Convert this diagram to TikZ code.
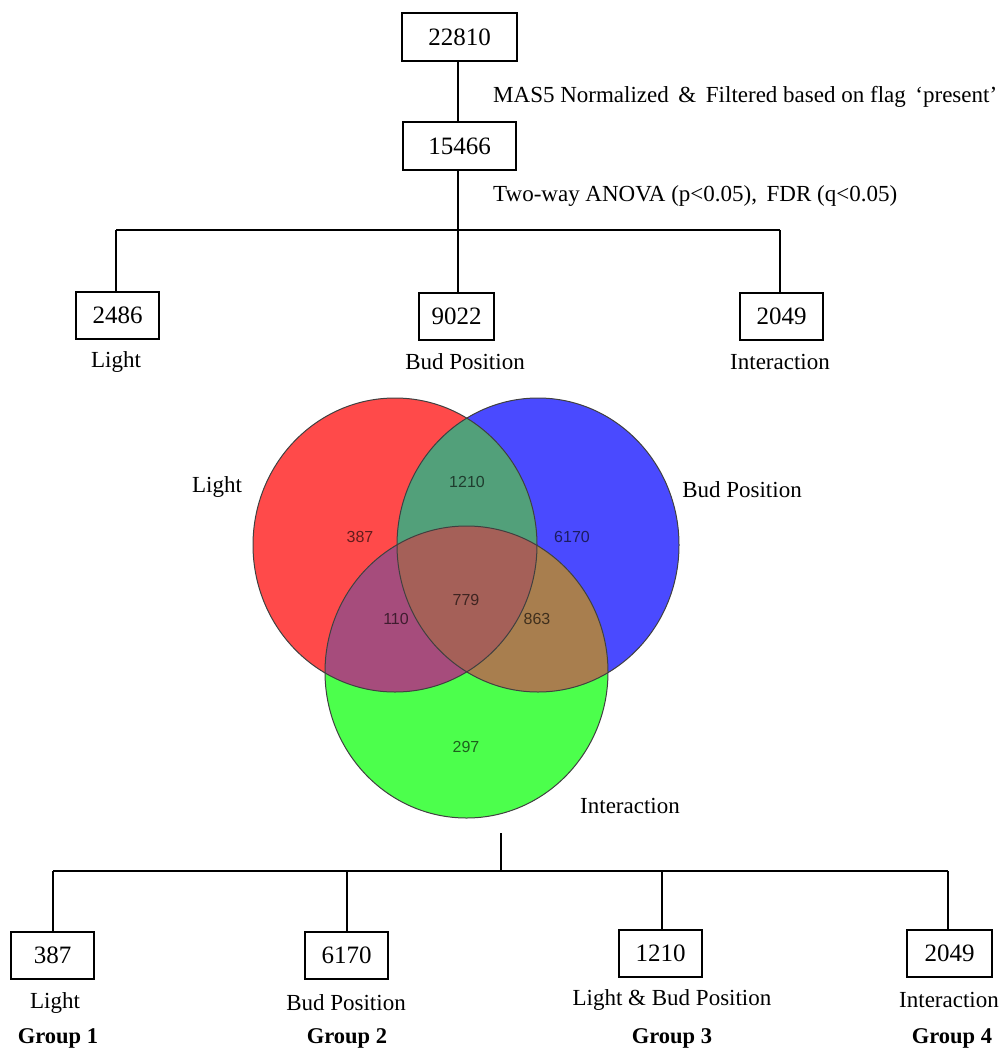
\documentclass[tikz,border=0pt]{standalone}
\usepackage{fontspec}
\setmainfont{Liberation Serif}
\newfontfamily\vennfont{Liberation Sans}
\definecolor{vR}{RGB}{255,74,74}
\definecolor{vB}{RGB}{74,74,255}
\definecolor{vG}{RGB}{76,255,76}
\definecolor{vRB}{RGB}{82,160,122}
\definecolor{vRG}{RGB}{166,76,124}
\definecolor{vBG}{RGB}{168,126,78}
\definecolor{vC}{RGB}{165,96,88}
\begin{document}
\begin{tikzpicture}[x=1pt,y=-1pt,
 box/.style={draw,line width=2pt,minimum width=83pt,minimum height=47pt,inner sep=0pt,font=\fontsize{25}{28}\selectfont},
 lbl/.style={inner sep=0pt,font=\fontsize{23}{26}\selectfont},
 grp/.style={inner sep=0pt,font=\fontsize{22.5}{26}\selectfont\bfseries},
 conn/.style={line width=2pt},
 vnum/.style={inner sep=0pt,font=\vennfont\fontsize{16}{18}\selectfont,text opacity=0.62},
 ring/.style={draw=black!75,line width=1pt}]
\useasboundingbox (0,0) rectangle (1002,1049);

% ---- top tree ----
\node[box,minimum width=115pt,minimum height=48pt] (n22810) at (459.5,37) {22810};
\node[box,minimum width=113pt,minimum height=48pt] (n15466) at (459.5,146) {15466};
\coordinate (t0) at (458,230);
\coordinate (tL) at (116,230);
\coordinate (tR) at (780,230);
\draw[conn] (t0 |- n22810.south) -- (t0 |- n15466.north);
\node[lbl,anchor=west] (tMAS) at (493,97) {MAS5 Normalized \,\&\, Filtered based on flag \,‘present’};
\node[lbl,anchor=west] (tANOVA) at (493,196) {Two-way ANOVA (p<0.05), \,FDR (q<0.05)};

\draw[conn] (t0 |- n15466.south) -- (t0);
\draw[conn] (tL) -- (tR);

\node[box] (n2486) at (117.5,315.5) {2486};
\node[box,minimum width=75pt] (n9022) at (456.5,316) {9022};
\node[box] (n2049a) at (781.5,316) {2049};
\draw[conn] (tL) -- (tL |- n2486.north);
\draw[conn] (t0) -- (t0 |- n9022.north);
\draw[conn] (tR) -- (tR |- n2049a.north);

\node[lbl] (lLight) at (116,362) {Light};
\node[lbl] (lBud) at (465,362) {Bud Position};
\node[lbl] (lInt) at (780,362) {Interaction};

% ---- Venn diagram ----
\def\cR{(395,545) ellipse[x radius=142pt,y radius=147pt]}
\def\cB{(538,545) ellipse[x radius=141pt,y radius=147pt]}
\def\cG{(466.5,672) ellipse[x radius=141.5pt,y radius=146pt]}
\fill[vR] \cR;
\fill[vB] \cB;
\fill[vG] \cG;
\begin{scope}
 \clip \cR;
 \fill[vRB] \cB;
\end{scope}
\begin{scope}
 \clip \cR;
 \fill[vRG] \cG;
\end{scope}
\begin{scope}
 \clip \cB;
 \fill[vBG] \cG;
\end{scope}
\begin{scope}
 \clip \cR;
 \clip \cB;
 \fill[vC] \cG;
\end{scope}
\draw[ring] \cR;
\draw[ring] \cB;
\draw[ring] \cG;

\node[vnum] (v387) at (360,537) {387};
\node[vnum] (v1210) at (467,482) {1210};
\node[vnum] (v6170) at (572,537) {6170};
\node[vnum] (v779) at (466,600) {779};
\node[vnum] (v110) at (396,619) {110};
\node[vnum] (v863) at (537,619) {863};
\node[vnum] (v297) at (466,747) {297};

\node[lbl] (vLight) at (217,487) {Light};
\node[lbl] (vBud) at (742,490) {Bud Position};
\node[lbl] (vInt) at (630,806) {Interaction};

% ---- bottom tree ----
\coordinate (b0) at (501,833);
\coordinate (bM) at (501,871);
\coordinate (bL) at (53,871);
\coordinate (bR) at (948,871);
\draw[conn] (b0) -- (bM);
\draw[conn] (bL) -- (bR);

\node[box] (g387) at (52.5,955) {387};
\node[box] (g6170) at (346.5,955.5) {6170};
\node[box] (g1210) at (660.5,953) {1210};
\node[box,minimum width=85pt] (g2049) at (949.5,953.5) {2049};
\coordinate (d2) at (347,871);
\coordinate (d3) at (662,871);
\draw[conn] (bL) -- (bL |- g387.north);
\draw[conn] (d2) -- (d2 |- g6170.north);
\draw[conn] (d3) -- (d3 |- g1210.north);
\draw[conn] (bR) -- (bR |- g2049.north);

\node[lbl] (gl1) at (55,1003) {Light};
\node[lbl] (gl2) at (346,1003) {Bud Position};
\node[lbl] (gl3) at (672,1000) {Light \& Bud Position};
\node[lbl] (gl4) at (949,1000) {Interaction};

\node[grp] (gg1) at (58,1038) {Group 1};
\node[grp] (gg2) at (347,1038) {Group 2};
\node[grp] (gg3) at (672,1038) {Group 3};
\node[grp] (gg4) at (952,1038) {Group 4};
\end{tikzpicture}
\end{document}
